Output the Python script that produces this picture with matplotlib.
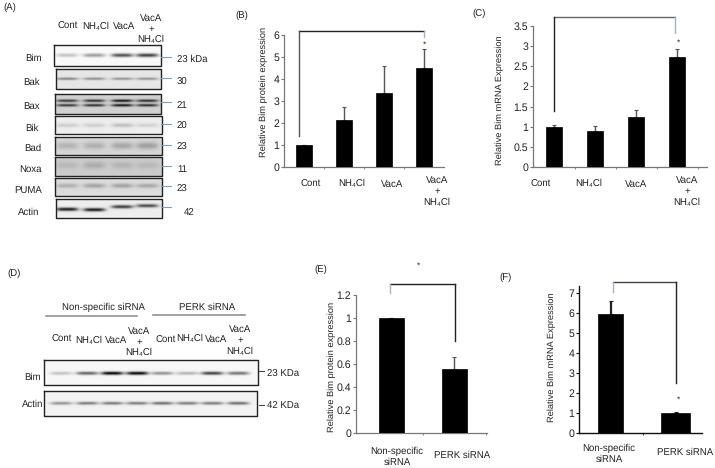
import numpy as np
import matplotlib
matplotlib.use("Agg")
import matplotlib.pyplot as plt

plt.rcParams['font.family'] = ['Liberation Sans', 'DejaVu Sans']
plt.rcParams['text.hinting'] = 'no_hinting'

W, H = 715, 468
NH4 = 'NH\u2084Cl'
TXT = '#222222'
FS = 6.9
YL = 6.7

# bar chart values
cats = ['Cont', 'NH4Cl', 'VacA', 'VacA + NH4Cl']
b_vals = [1.0, 2.14, 3.35, 4.5]
b_tops = [1.0, 2.73, 4.59, 5.36]
c_vals = [1.0, 0.89, 1.23, 2.72]
c_tops = [1.05, 1.01, 1.41, 2.94]
e_vals = [1.0, 0.56]
e_tops = [1.0, 0.66]
f_vals = [5.93, 1.0]
f_tops = [6.6, 1.05]

b_ticks = [0, 1, 2, 3, 4, 5, 6]
c_ticks = [0, 0.5, 1, 1.5, 2, 2.5, 3, 3.5]
c_ticklabels = ['0', '0.5', '1', '1.5', '2', '2.5', '3', '3.5']
e_ticks = [0, 0.2, 0.4, 0.6, 0.8, 1, 1.2]
e_ticklabels = ['0', '0.2', '0.4', '0.6', '0.8', '1', '1.2']
f_ticks = [0, 1, 2, 3, 4, 5, 6, 7]

# blot band strengths per lane, panel A
bim_a = [0.22, 0.38, 0.68, 0.75]
bak_a = [0.45, 0.4, 0.38, 0.38]
bax_a = [0.75, 0.8, 0.92, 0.82]
bik_a = [0.14, 0.14, 0.2, 0.12]
bad_a = [0.16, 0.18, 0.22, 0.26]
noxa_a = [0.1, 0.16, 0.12, 0.1]
puma_a = [0.2, 0.26, 0.26, 0.24]
actin_a = [0.9, 0.9, 0.75, 0.7]
# panel D
bim_d = [0.22, 0.6, 1.0, 1.0, 0.42, 0.28, 0.75, 0.55]
actin_d = [0.4, 0.5, 0.5, 0.5, 0.55, 0.5, 0.5, 0.55]

lanes_a = [67, 94, 122, 147]
lanes_d = [61, 87, 112, 137, 162, 187, 212, 238]

fig = plt.figure(figsize=(W / 100, H / 100), dpi=100)
# overlay in pixel coordinates for the blots and labels
ov = fig.add_axes([0, 0, 1, 1], zorder=5)
ov.patch.set_alpha(0)
ov.axis('off')


def blot(box, bg, lanes, values, rows, lane_w=11, band_h=1.8, shift=None, frame=1.0):
    x0, x1, y0, y1 = box
    xs, ys = np.meshgrid(np.arange(x0, x1, 0.5), np.arange(y0, y1, 0.5))
    img = np.full(xs.shape, float(bg))
    for i, (lx, val) in enumerate(zip(lanes, values)):
        dy = shift[i] if shift else 0
        prof = np.exp(-((xs - lx) / lane_w) ** 4)
        for r in rows:
            img -= val * bg * prof * np.exp(-((ys - r - dy) / band_h) ** 2)
    ov.imshow(np.clip(img, 0, 1), cmap='gray', vmin=0, vmax=1, aspect='auto',
              extent=(x0, x1, y1, y0), interpolation='bilinear')
    ov.plot([x0, x1, x1, x0, x0], [y0, y0, y1, y1, y0], color='#222222', lw=frame)


def label(x, y, s, ha='center', size=FS, **kw):
    ov.text(x, y, s, ha=ha, va='center', fontsize=size, color=TXT, **kw)


def stacked(x, ys, size=FS):
    for y, s in zip(ys, ['VacA', '+', NH4]):
        label(x, y, s, size=size)


def bars(px_left, px_right, px_bottom, px_top, ymax, centers, widths, vals, tops, ticks,
         ticklabels=None, spine='#777777', spine_w=0.9, err='#555555', err_w=1.0):
    # axes placed by pixels, x in pixels from left edge
    ax = fig.add_axes([px_left / W, 1 - px_bottom / H, (px_right - px_left) / W,
                       (px_bottom - px_top) / H])
    ax.set_xlim(px_left, px_right)
    ax.set_ylim(0, ymax)
    ax.bar(centers, vals, width=widths, color='black', edgecolor='black', linewidth=0.5, zorder=3)
    ups = [t - v for t, v in zip(tops, vals)]
    ax.errorbar(centers, vals, yerr=[[0] * len(ups), ups], fmt='none', ecolor=err,
                elinewidth=err_w, capsize=1.5, capthick=0.8, zorder=2)
    for s in ['top', 'right']:
        ax.spines[s].set_visible(False)
    for s in ['left', 'bottom']:
        ax.spines[s].set_color(spine)
        ax.spines[s].set_linewidth(spine_w)
    ax.set_yticks(ticks)
    ax.set_yticklabels(ticklabels if ticklabels else [str(t) for t in ticks])
    ax.tick_params(axis='y', labelsize=7.6, labelcolor=TXT, color=spine, length=2, width=0.8, pad=1.5)
    step = centers[1] - centers[0]
    edges = [centers[0] + step * (i + 0.5) for i in range(len(centers))]
    ax.set_xticks([e for e in edges if e < px_right])
    ax.set_xticklabels([])
    ax.tick_params(axis='x', color=spine, length=1.5, width=0.6)
    return ax


def bracket(x0, x1, top, y0, y1, c0='#222222', c1='#9db6cc', ctop='#222222', lw=1.0):
    ov.plot([x0, x1], [top, top], color=ctop, lw=lw, solid_capstyle='projecting')
    ov.plot([x0, x0], [top, y0], color=c0, lw=lw)
    ov.plot([x1, x1], [top, y1], color=c1, lw=lw)


# (A) blots
for x, y, s in [(68, 26, 'Cont'), (96, 27, NH4), (124, 26, 'VacA')]:
    label(x, y, s)
stacked(151, [18, 29, 40])

blot((54, 161, 45, 66), 0.98, lanes_a, bim_a, [55])
blot((56, 161, 69, 89), 0.90, lanes_a, bak_a, [78.5], band_h=1.2)
blot((55, 161, 94, 114), 0.82, lanes_a, bax_a, [100.5, 105], band_h=1.3)
blot((55, 162, 116, 134), 0.93, lanes_a, bik_a, [125], band_h=2.0)
blot((55, 162, 137, 155), 0.84, lanes_a, bad_a, [145.5], band_h=3.5)
blot((55, 162, 157, 176), 0.80, lanes_a, noxa_a, [165], band_h=3.5)
blot((55, 162, 178, 196), 0.86, lanes_a, puma_a, [185.5], band_h=2.2)
blot((56, 162, 199, 218), 0.93, lanes_a, actin_a, [209], band_h=1.7, shift=[0, 0.5, -2.5, -3.5])

names_a = ['Bim', 'Bak', 'Bax', 'Bik', 'Bad', 'Noxa', 'PUMA', 'Actin']
name_x = [33, 31, 31, 32, 33, 30, 28, 29]
name_y = [58, 82, 106, 128, 148, 169, 190, 212]
kda_a = ['23 kDa', '30', '21', '20', '23', '11', '23', '42']
kda_y = [59, 82, 105, 126, 147, 169, 189, 212]
tick_y = [57, 78, 102, 124, 145, 166, 186, 207]
for n, x, y in zip(names_a, name_x, name_y):
    label(x, y, n)
for k, y, ty in zip(kda_a, kda_y, tick_y):
    label(184 if k == '42' else 177, y, k, ha='left')
    ov.plot([161, 171], [ty, ty], color='#7f9fc0', lw=0.8)

# (D) blots
label(103, 307, 'Non-specific siRNA')
label(207, 307, 'PERK siRNA')
ov.plot([46, 137], [316, 316], color='#888888', lw=1.1)
ov.plot([153, 245], [315, 315], color='#888888', lw=1.1)
for x, y, s in [(62, 339, 'Cont'), (89, 341, NH4), (116, 340, 'VacA'),
                (166, 340, 'Cont'), (190, 339, NH4), (216, 339, 'VacA')]:
    label(x, y, s)
stacked(139, [331, 342, 353])
stacked(240, [329, 340, 352])

blot((44, 258, 360, 385), 0.97, lanes_d, bim_d, [373], band_h=1.6)
blot((44, 257, 391, 416), 0.95, lanes_d, actin_d, [403], band_h=1.5)
label(32, 377, 'Bim')
label(33, 404, 'Actin')
label(267, 374, '23 KDa', ha='left')
label(267, 406, '42 KDa', ha='left')
ov.plot([259, 264], [371, 371], color='#444444', lw=0.8)
ov.plot([259, 264], [405, 405], color='#444444', lw=0.8)

# (B)
bars(284, 444, 167, 35, 6, [304, 344, 384, 424], 16, b_vals, b_tops, b_ticks)
bracket(299, 424, 31, 136, 37, c0='#555555')
label(424, 45, '*', size=6)
ov.text(264, 92, 'Relative Bim protein expression', rotation=90, ha='center', va='center',
        fontsize=YL, color=TXT)
for x, s in zip([311, 352, 392], ['Cont', NH4, 'VacA']):
    label(x, 184, s)
stacked(437, [180, 191, 203])

# (C)
bars(533, 707, 167, 26, 3.5, [554, 595, 636, 677], 16.5, c_vals, c_tops, c_ticks, c_ticklabels)
bracket(554, 675, 17, 111, 33, ctop='#666666')
label(678, 43, '*', size=6)
ov.text(500, 100, 'Relative Bim mRNA Expression', rotation=90, ha='center', va='center',
        fontsize=YL, color=TXT)
for x, s in zip([541, 589, 636], ['Cont', NH4, 'VacA']):
    label(x, 184, s)
stacked(687, [180, 191, 203])

# (E)
bars(356, 487, 433, 295, 1.2, [391, 454], 25, e_vals, e_tops, e_ticks, e_ticklabels)
bracket(390, 455, 284, 293, 341, c0='#9db6cc', c1='#222222')
label(418, 266, '*', size=6)
ov.text(332, 367, 'Relative Bim protein expression', rotation=90, ha='center', va='center',
        fontsize=YL, color=TXT)
label(397, 451, 'Non-specific')
label(397, 462, 'siRNA')
label(462, 455, 'PERK siRNA')

# (F)
bars(579, 702, 433, 286, 7.35, [611, 676], [25, 29], f_vals, f_tops, f_ticks,
     spine='#111111', spine_w=1.0, err='#222222', err_w=1.6)
bracket(613, 676, 282, 292, 383, c0='#9db6cc', c1='#222222', ctop='#444444')
label(678, 400, '*', size=6)
ov.text(552, 357, 'Relative Bim mRNA Expression', rotation=90, ha='center', va='center',
        fontsize=YL, color=TXT)
label(609, 448, 'Non-specific')
label(609, 459, 'siRNA')
label(685, 452, 'PERK siRNA')

# panel letters
for x, y, s in [(3, 7, '(A)'), (235, 15, '(B)'), (472, 13, '(C)'),
                (7, 273, '(D)'), (314, 269, '(E)'), (499, 277, '(F)')]:
    label(x, y, s, ha='left')

ov.set_xlim(0, W)
ov.set_ylim(H, 0)

fig.savefig('out.png', dpi=100)
